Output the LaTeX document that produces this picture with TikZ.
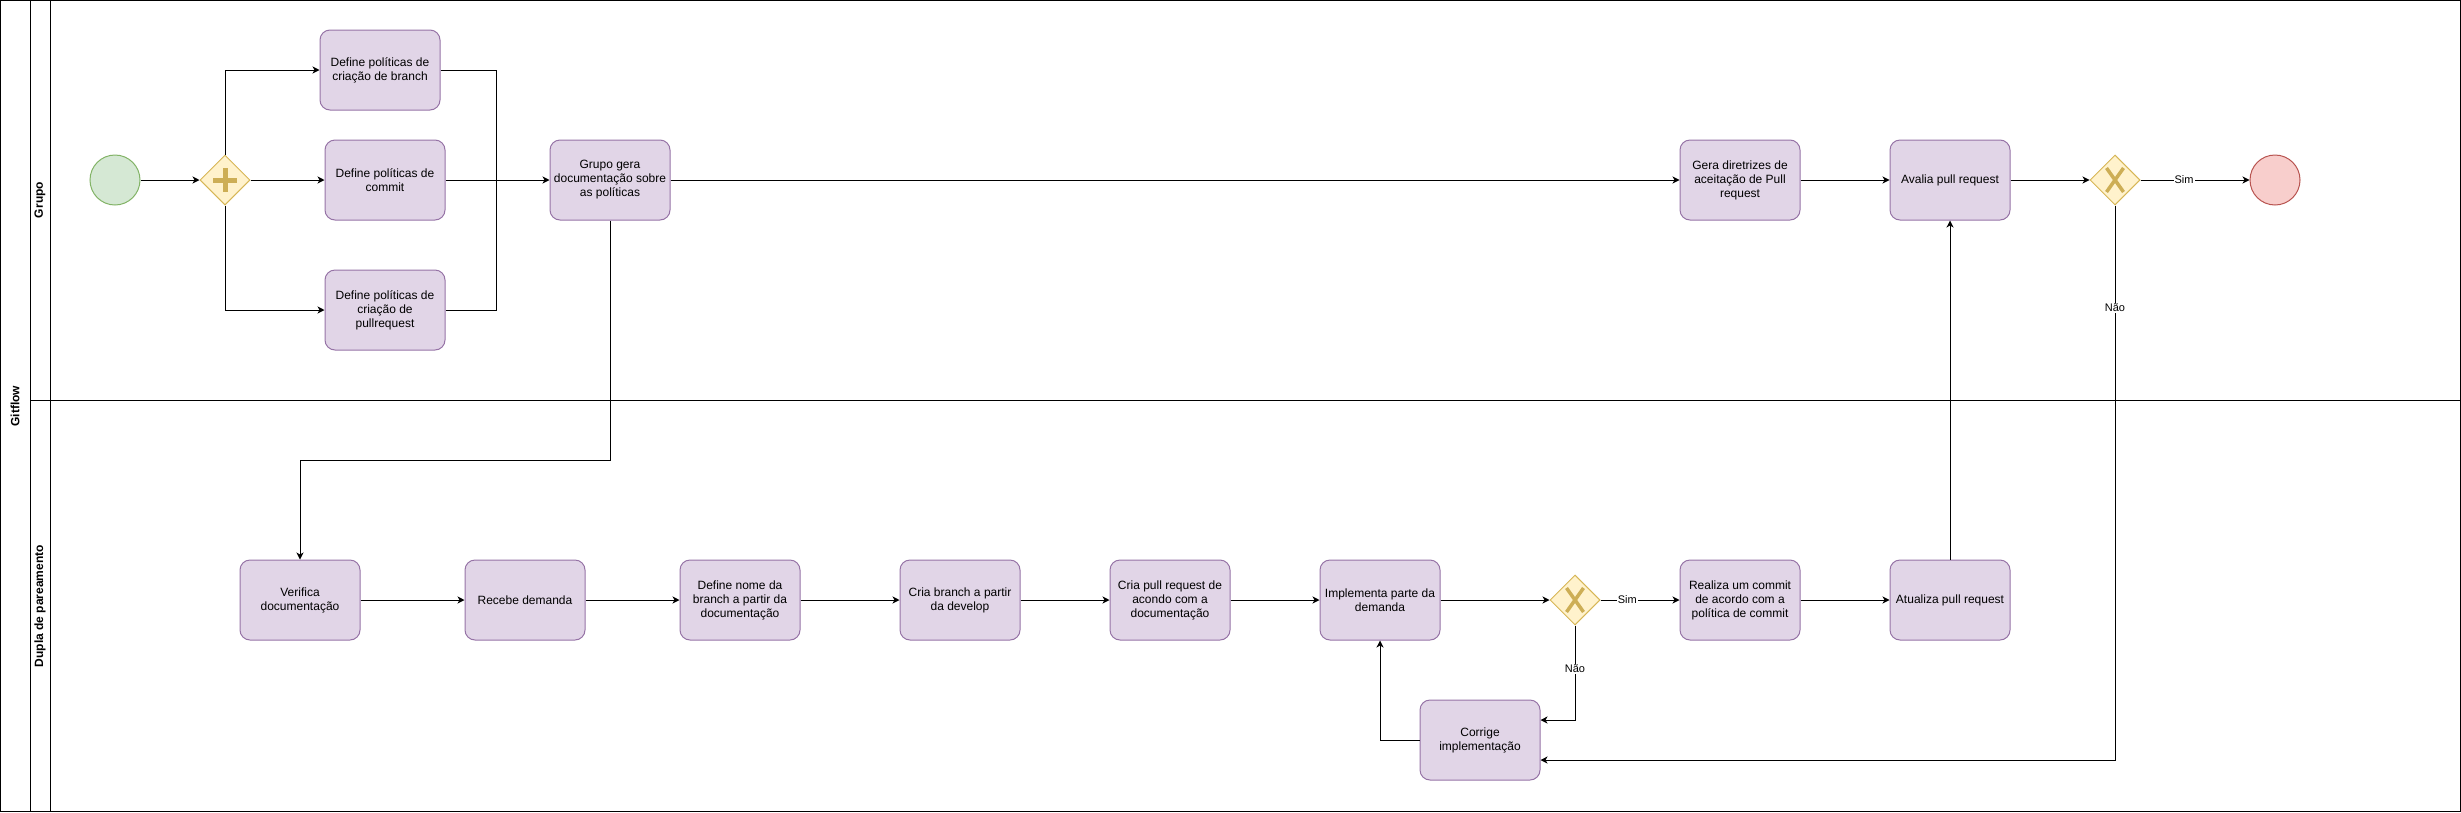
\documentclass[tikz,border=0pt]{standalone}
\usepackage{fontspec}
\setmainfont{Liberation Sans}
\usetikzlibrary{shapes.geometric,arrows.meta}
\definecolor{taskfill}{HTML}{E1D5E7}
\definecolor{taskline}{HTML}{9673A6}
\definecolor{startfill}{HTML}{D5E8D4}
\definecolor{startline}{HTML}{82B366}
\definecolor{endfill}{HTML}{F8CECC}
\definecolor{endline}{HTML}{B85450}
\definecolor{gwfill}{HTML}{FFF2CC}
\definecolor{gwline}{HTML}{D6B656}
\definecolor{gwmark}{HTML}{CDAE55}
\begin{document}
\begin{tikzpicture}[x=1pt,y=-1pt,line width=1pt,
  task/.style={draw=taskline,fill=taskfill,rounded corners=10pt,minimum width=120pt,minimum height=80pt,align=center,font=\fontsize{12}{14}\selectfont,inner sep=0pt},
  gw/.style={diamond,draw=gwline,fill=gwfill,minimum width=50pt,minimum height=50pt,inner sep=0pt,aspect=1},
  ev/.style={circle,minimum size=50pt,inner sep=0pt},
  flow/.style={draw=black,-{Stealth[length=7pt,width=7pt,inset=2pt]}},
  lbl/.style={fill=white,inner sep=1pt,font=\fontsize{11}{13}\selectfont},
  lanelabel/.style={font=\bfseries\fontsize{12}{14}\selectfont,rotate=90},
  gwsign/.style={draw=gwmark,line width=5pt},
  gwcross/.style={draw=gwmark,line width=3.5pt}
]
\useasboundingbox (0,0) rectangle (2461,812);
% pool and lanes
\draw (0.5,0.5) rectangle (2460,811);
\draw (30,0.5) -- (30,811);
\draw (50,0.5) -- (50,811);
\draw (30,400) -- (2460,400);
\node[lanelabel] (pool) at (15,406) {Gitflow};
\node[lanelabel] (lane1) at (40,200) {Grupo};
\node[lanelabel] (lane2) at (40,606) {Dupla de pareamento};

% upper lane
\node[ev,draw=startline,fill=startfill] (start) at (115,180) {};
\node[gw] (gw1) at (225,180) {};
\draw[gwsign] ([shift={(-12,0)}]gw1.center) -- ([shift={(12,0)}]gw1.center);
\draw[gwsign] ([shift={(0,-12)}]gw1.center) -- ([shift={(0,12)}]gw1.center);
\node[task] (t1) at (380,70) {Define políticas de\\criação de branch};
\node[task] (t2) at (385,180) {Define políticas de\\commit};
\node[task] (t3) at (385,310) {Define políticas de\\criação de\\pullrequest};
\node[task] (t4) at (610,180) {Grupo gera\\documentação sobre\\as políticas};
\node[task] (t5) at (1740,180) {Gera diretrizes de\\aceitação de Pull\\request};
\node[task] (t6) at (1950,180) {Avalia pull request};
\node[gw] (gw2) at (2115,180) {};
\draw[gwcross] ([shift={(-8.5,-12)}]gw2.center) -- ([shift={(8.5,12)}]gw2.center);
\draw[gwcross] ([shift={(-8.5,12)}]gw2.center) -- ([shift={(8.5,-12)}]gw2.center);
\node[ev,draw=endline,fill=endfill] (end) at (2275,180) {};

% lower lane
\node[task] (v1) at (300,600) {Verifica\\documentação};
\node[task] (v2) at (525,600) {Recebe demanda};
\node[task] (v3) at (740,600) {Define nome da\\branch a partir da\\documentação};
\node[task] (v4) at (960,600) {Cria branch a partir\\da develop};
\node[task] (v5) at (1170,600) {Cria pull request de\\acondo com a\\documentação};
\node[task] (v6) at (1380,600) {Implementa parte da\\demanda};
\node[gw] (gw3) at (1575,600) {};
\draw[gwcross] ([shift={(-8.5,-12)}]gw3.center) -- ([shift={(8.5,12)}]gw3.center);
\draw[gwcross] ([shift={(-8.5,12)}]gw3.center) -- ([shift={(8.5,-12)}]gw3.center);
\node[task] (v7) at (1740,600) {Realiza um commit\\de acordo com a\\política de commit};
\node[task] (v8) at (1950,600) {Atualiza pull request};
\node[task] (v9) at (1480,740) {Corrige\\implementação};

% connectors upper
\coordinate (m1) at (496,180);
\draw[flow] (start) -- (gw1);
\draw[flow] (gw1.north) |- (t1.west);
\draw[flow] (gw1) -- (t2);
\draw[flow] (gw1.south) |- (t3.west);
\draw (t1.east) -| (m1);
\draw (t3.east) -| (m1);
\draw[flow] (t2) -- (t4);
\draw[flow] (t4.south) -- ++(0,240) -| (v1.north);
\draw[flow] (t4) -- (t5);
\draw[flow] (t5) -- (t6);
\draw[flow] (t6) -- (gw2);
\draw[flow] (gw2) -- node[lbl,pos=0.4] {Sim} (end);
\draw[flow] (gw2.south) |- node[lbl,pos=0.092] {Não} ([yshift=-20pt]v9.east);

% connectors lower
\draw[flow] (v1) -- (v2);
\draw[flow] (v2) -- (v3);
\draw[flow] (v3) -- (v4);
\draw[flow] (v4) -- (v5);
\draw[flow] (v5) -- (v6);
\draw[flow] (v6) -- (gw3);
\draw[flow] (gw3) -- node[lbl,pos=0.34] {Sim} (v7);
\draw[flow] (gw3.south) |- node[lbl,pos=0.23] {Não} ([yshift=20pt]v9.east);
\draw[flow] (v9.west) -| (v6.south);
\draw[flow] (v7) -- (v8);
\draw[flow] (v8) -- (t6);
\end{tikzpicture}
\end{document}
